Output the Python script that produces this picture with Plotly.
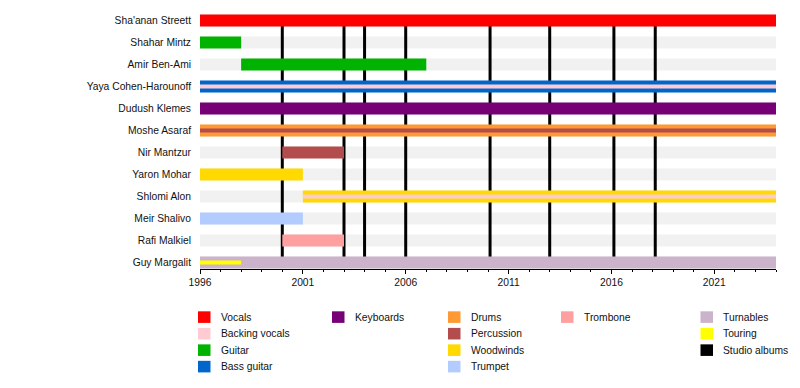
import plotly.graph_objects as go

# ---------------- data ----------------
members = ["Sha'anan Streett", "Shahar Mintz", "Amir Ben-Ami", "Yaya Cohen-Harounoff",
           "Dudush Klemes", "Moshe Asaraf", "Nir Mantzur", "Yaron Mohar",
           "Shlomi Alon", "Meir Shalivo", "Rafi Malkiel", "Guy Margalit"]

timeline_start = 1996
timeline_end = 2024

# main roles: (member, role, start, end)
main_periods = [
    ("Sha'anan Streett", "Vocals", 1996, 2024),
    ("Shahar Mintz", "Guitar", 1996, 1998),
    ("Amir Ben-Ami", "Guitar", 1998, 2007),
    ("Yaya Cohen-Harounoff", "Bass guitar", 1996, 2024),
    ("Dudush Klemes", "Keyboards", 1996, 2024),
    ("Moshe Asaraf", "Drums", 1996, 2024),
    ("Nir Mantzur", "Percussion", 2000, 2003),
    ("Yaron Mohar", "Woodwinds", 1996, 2001),
    ("Shlomi Alon", "Woodwinds", 2001, 2024),
    ("Meir Shalivo", "Trumpet", 1996, 2001),
    ("Rafi Malkiel", "Trombone", 2000, 2003),
    ("Guy Margalit", "Turnables", 1996, 2024),
]

# secondary roles (thin inner stripes)
inner_periods = [
    ("Yaya Cohen-Harounoff", "Backing vocals", 1996, 2024),
    ("Moshe Asaraf", "Percussion", 1996, 2024),
    ("Shlomi Alon", "Backing vocals", 2001, 2024),
    ("Guy Margalit", "Touring", 1996, 1998),
]

studio_albums = [2000.0, 2003.0, 2004.0, 2006.0, 2010.1, 2013.0, 2016.12, 2018.13]

role_colors = {
    "Vocals": "#ff0000",
    "Backing vocals": "#ffcbd3",
    "Guitar": "#00b300",
    "Bass guitar": "#0066cc",
    "Keyboards": "#770077",
    "Drums": "#ff9933",
    "Percussion": "#b34d4d",
    "Woodwinds": "#ffd900",
    "Trumpet": "#b3ccff",
    "Trombone": "#ffa0a0",
    "Turnables": "#ccb3cc",
    "Touring": "#ffff00",
    "Studio albums": "#000000",
}

legend_columns = [
    ["Vocals", "Backing vocals", "Guitar", "Bass guitar"],
    ["Keyboards"],
    ["Drums", "Percussion", "Woodwinds", "Trumpet"],
    ["Trombone"],
    ["Turnables", "Touring", "Studio albums"],
]

x_tick_years = list(range(1996, 2022, 5))

# ---------------- layout constants ----------------
W, H = 800, 388
ML, MR, MT, MB = 200, 24, 10, 118.5
PW, PH = W - ML - MR, H - MT - MB
FONT = "Liberation Sans, Arial, sans-serif"
FS = 10.3
BAR_W = 0.545
INNER_W = 0.18

idx = {m: i for i, m in enumerate(members)}

fig = go.Figure()

# background grey bars (semi transparent so album lines show through)
fig.add_trace(go.Bar(
    y=list(range(len(members))),
    x=[timeline_end - timeline_start] * len(members),
    base=[timeline_start] * len(members),
    orientation="h", width=BAR_W,
    marker=dict(color="rgba(0,0,0,0.055)", line=dict(width=0)),
    showlegend=False, hoverinfo="skip",
))

def add_bars(periods, width):
    roles = []
    for p in periods:
        if p[1] not in roles:
            roles.append(p[1])
    for role in roles:
        rows = [p for p in periods if p[1] == role]
        fig.add_trace(go.Bar(
            y=[idx[p[0]] for p in rows],
            x=[p[3] - p[2] for p in rows],
            base=[p[2] for p in rows],
            orientation="h", width=width,
            marker=dict(color=role_colors[role], line=dict(width=0)),
            name=role, showlegend=False,
            hovertext=[f"{p[0]}: {role} {p[2]}–{p[3]}" for p in rows],
            hoverinfo="text",
        ))

add_bars(main_periods, BAR_W)
add_bars(inner_periods, INNER_W)

shapes = []
for yr in studio_albums:
    shapes.append(dict(type="line", xref="x", yref="y", x0=yr, x1=yr,
                       y0=0, y1=len(members) - 1, layer="below",
                       line=dict(color="black", width=3)))

# legend drawn in paper coordinates
col_x_px = [198, 332, 448, 561, 700.5]
row_y_px = [317.7, 334.3, 350.8, 367.3]
annotations = []
for c, col in enumerate(legend_columns):
    for r, label in enumerate(col):
        x0 = (col_x_px[c] - ML) / PW
        x1 = (col_x_px[c] + 12.5 - ML) / PW
        yc = row_y_px[r]
        y0 = (H - MB - (yc + 5.8)) / PH
        y1 = (H - MB - (yc - 5.8)) / PH
        shapes.append(dict(type="rect", xref="paper", yref="paper",
                           x0=x0, x1=x1, y0=y0, y1=y1,
                           fillcolor=role_colors[label], line=dict(width=0)))
        annotations.append(dict(xref="paper", yref="paper",
                                x=(col_x_px[c] + 20.5 - ML) / PW,
                                y=(H - MB - yc) / PH,
                                text=label, showarrow=False,
                                xanchor="left", yanchor="middle",
                                font=dict(family=FONT, size=FS, color="#111")))

fig.update_layout(
    width=W, height=H,
    margin=dict(l=ML, r=MR, t=MT, b=MB, autoexpand=False),
    paper_bgcolor="white", plot_bgcolor="white",
    barmode="overlay",
    showlegend=False,
    font=dict(family=FONT, size=FS, color="#111"),
    shapes=shapes, annotations=annotations,
    xaxis=dict(
        range=[timeline_start, timeline_end],
        tickvals=x_tick_years, ticktext=[str(y) for y in x_tick_years],
        ticks="outside", ticklen=4, tickwidth=1, tickcolor="black",
        minor=dict(dtick=1, tick0=1996, ticks="outside", ticklen=2, tickcolor="black", showgrid=False),
        showline=True, linecolor="black", linewidth=1,
        showgrid=False, zeroline=False,
        tickfont=dict(family=FONT, size=FS, color="#111"),
        fixedrange=True,
    ),
    yaxis=dict(
        range=[11.295, -0.476],
        tickvals=list(range(len(members))), ticktext=members,
        ticks="", ticklabelstandoff=8,
        showline=False, showgrid=False, zeroline=False,
        tickfont=dict(family=FONT, size=FS, color="#111"),
        fixedrange=True,
    ),
)

fig.write_html("out.html", config={"displayModeBar": False},
               post_script="document.body.style.margin='0';document.body.style.overflow='hidden';")
